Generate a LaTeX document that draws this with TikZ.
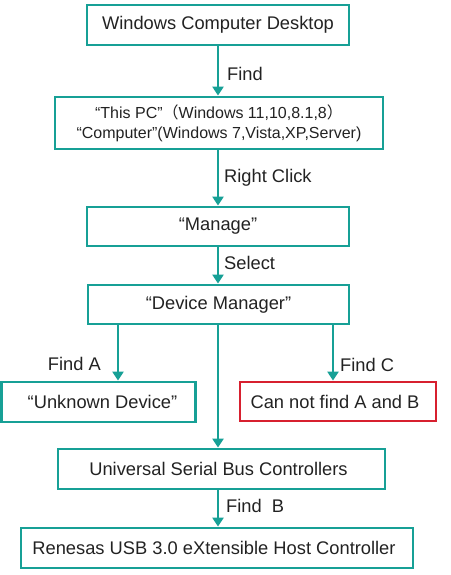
\documentclass[tikz,border=0pt]{standalone}
\usepackage{fontspec}
\setmainfont{Liberation Sans}
\newfontfamily\cjk{Noto Sans CJK SC}
\usetikzlibrary{arrows.meta}
\definecolor{teal1}{HTML}{17A096}
\definecolor{red1}{HTML}{D7202F}
\definecolor{txt}{HTML}{222222}
\tikzset{
  box/.style={draw=teal1, line width=2.8pt, text=txt, inner sep=0pt, font=\fontsize{18.3}{22}\selectfont},
  redbox/.style={box, draw=red1},
  arr/.style={draw=teal1, line width=2.8pt, -{Triangle[width=11pt,length=9pt]}},
  lab/.style={text=txt, inner sep=0pt, font=\fontsize{18.3}{22}\selectfont}
}
\begin{document}
\begin{tikzpicture}[x=1pt,y=-1pt]
\useasboundingbox (0,0) rectangle (450,575);
\node[box, minimum width=262pt, minimum height=40pt] (b1) at (218,25) {Windows Computer Desktop};
\node[box, minimum width=328pt, minimum height=52pt, align=center, font=\fontsize{16}{20}\selectfont] (b2) at (219,123)
  {“This PC”{\cjk （}Windows 11,10,8.1,8{\cjk ）}\\“Computer”(Windows 7,Vista,XP,Server)};
\node[box, minimum width=262pt, minimum height=39pt] (b3) at (218,226.5) {“Manage”};
\node[box, minimum width=261pt, minimum height=39pt] (b4) at (218.5,304.5) {“Device Manager”};
\node[box, minimum width=194pt, minimum height=40pt] (bA) at (98.5,402) {\hspace*{8pt}“Unknown Device”};
\node[redbox, minimum width=196pt, minimum height=39pt] (bC) at (338,401.5) {Can not find A and B\hspace*{6pt}};
\node[box, minimum width=327pt, minimum height=40pt] (b5) at (221.5,469) {Universal Serial Bus Controllers\hspace*{6pt}};
\node[box, minimum width=392pt, minimum height=40pt] (b6) at (217,548) {Renesas USB 3.0 eXtensible Host Controller\hspace*{6pt}};

\draw[arr] (b1.south -| 218,0) -- (b2.north -| 218,0);
\draw[arr] (b2.south -| 218,0) -- (b3.north -| 218,0);
\draw[arr] (b3.south -| 218,0) -- (b4.north -| 218,0);
\draw[arr] (b4.south -| 118,0) -- (bA.north -| 118,0);
\draw[arr] (b4.south -| 218,0) -- (b5.north -| 218,0);
\draw[arr] (b4.south -| 333,0) -- (bC.north -| 333,0);
\draw[arr] (b5.south -| 218,0) -- (b6.north -| 218,0);

\node[lab, anchor=west] (l1) at (227,74) {Find};
\node[lab, anchor=west] (l2) at (224,178) {Right Click};
\node[lab, anchor=west] (l3) at (224,263) {Select};
\node[lab, anchor=east] (lA) at (101,364) {Find A};
\node[lab, anchor=west] (lC) at (340,365) {Find C};
\node[lab, anchor=west] (lB) at (226,506) {Find\ \ B};
\end{tikzpicture}
\end{document}
